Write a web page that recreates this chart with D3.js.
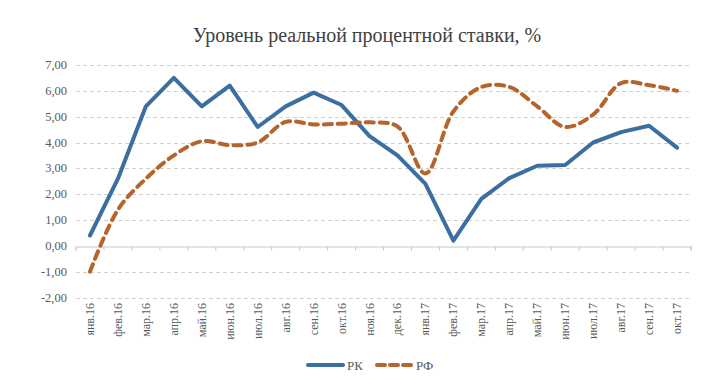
<!DOCTYPE html>
<html><head><meta charset="utf-8">
<script src="https://cdn.jsdelivr.net/npm/d3@7"></script>
<style>body{margin:0;background:#fff}</style>
</head><body>
<script>
const categories = ["янв.16","фев.16","мар.16","апр.16","май.16","июн.16","июл.16","авг.16","сен.16","окт.16","ноя.16","дек.16","янв.17","фев.17","мар.17","апр.17","май.17","июн.17","июл.17","авг.17","сен.17","окт.17"];
const rk = [0.4,2.6,5.4,6.5,5.4,6.2,4.6,5.4,5.93,5.45,4.25,3.5,2.4,0.2,1.82,2.62,3.1,3.13,4.0,4.4,4.65,3.8];
const rf = [-1.0,1.4,2.6,3.5,4.05,3.9,4.0,4.8,4.7,4.73,4.78,4.62,2.8,5.2,6.15,6.15,5.4,4.6,5.08,6.3,6.22,6.0];
const yTicks = [-2,-1,0,1,2,3,4,5,6,7];
const seriesNames = ["РК","РФ"];

const W=720,H=390;
const svg=d3.select("body").append("svg").attr("width",W).attr("height",H);
const font="'Liberation Serif','Times New Roman',serif";
const x=d3.scaleBand().domain(categories).range([76,691]);
const y=d3.scaleLinear().domain([-2,7]).range([297.5,65]);
const cx=d=>x(d)+x.bandwidth()/2;

svg.append("text").attr("x",367).attr("y",42).attr("text-anchor","middle")
  .style("font-family",font).style("font-size","20px").attr("fill","#404040")
  .text("Уровень реальной процентной ставки, %");

// grid
svg.append("g").selectAll("line").data(yTicks.filter(v=>v!==0)).join("line")
  .attr("x1",76).attr("x2",691).attr("y1",d=>Math.round(y(d))+0.5).attr("y2",d=>Math.round(y(d))+0.5)
  .attr("stroke","#d0d0d0").attr("stroke-dasharray","4,3");

// y labels
svg.append("g").selectAll("text").data(yTicks).join("text")
  .attr("x",67).attr("y",d=>y(d)+4).attr("text-anchor","end")
  .style("font-family",font).style("font-size","12.5px").attr("fill","#595959")
  .text(d=>d3.format(".2f")(d).replace(".",",").replace("−","-"));

// x axis at 0
const xAxis=d3.axisBottom(x).tickSize(4).tickFormat("");
const gx=svg.append("g").attr("transform",`translate(0,${Math.round(y(0))+0.5})`).call(xAxis);
gx.select(".domain").attr("stroke","#c8c8c8");
gx.selectAll(".tick line").attr("stroke","#c8c8c8").attr("transform",`translate(${-x.bandwidth()/2},0)`);
gx.append("line").attr("x1",691).attr("x2",691).attr("y1",0).attr("y2",4).attr("stroke","#c8c8c8");

// x labels
svg.append("g").selectAll("text").data(categories).join("text")
  .attr("transform",d=>`translate(${cx(d)+4},303) rotate(-90)`)
  .attr("text-anchor","end")
  .style("font-family",font).style("font-size","12px").attr("fill","#595959")
  .text(d=>d);

const lineRk=d3.line().x((d,i)=>cx(categories[i])).y(d=>y(d));
const lineRf=d3.line().x((d,i)=>cx(categories[i])).y(d=>y(d)).curve(d3.curveCatmullRom.alpha(0.5));

svg.append("path").attr("d",lineRk(rk)).attr("fill","none").attr("stroke","#3b6fa0")
  .attr("stroke-width",4).attr("stroke-linejoin","round").attr("stroke-linecap","round");
svg.append("path").attr("d",lineRf(rf)).attr("fill","none").attr("stroke","#b5652b")
  .attr("stroke-width",4).attr("stroke-dasharray","8,6").attr("stroke-linecap","round");

// legend
const lg=svg.append("g");
lg.append("line").attr("x1",308).attr("x2",343).attr("y1",365).attr("y2",365)
  .attr("stroke","#3b6fa0").attr("stroke-width",4).attr("stroke-linecap","round");
lg.append("text").attr("x",347).attr("y",369.5).style("font-family",font).style("font-size","13px")
  .attr("fill","#595959").text(seriesNames[0]);
lg.append("line").attr("x1",377).attr("x2",412).attr("y1",365).attr("y2",365)
  .attr("stroke","#b5652b").attr("stroke-width",4).attr("stroke-dasharray","8,5").attr("stroke-linecap","round");
lg.append("text").attr("x",416).attr("y",369.5).style("font-family",font).style("font-size","13px")
  .attr("fill","#595959").text(seriesNames[1]);
</script>
</body></html>
